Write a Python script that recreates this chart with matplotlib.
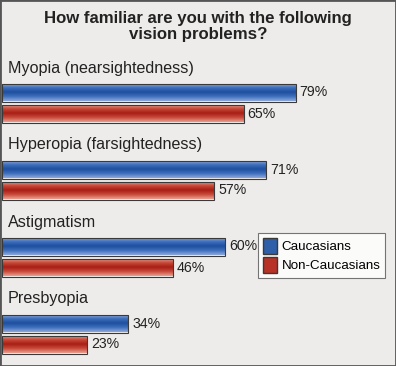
import numpy as np
import matplotlib
matplotlib.use("Agg")
import matplotlib.pyplot as plt
from matplotlib.patches import Patch
from matplotlib.colors import LinearSegmentedColormap

categories = ["Myopia (nearsightedness)", "Hyperopia (farsightedness)", "Astigmatism", "Presbyopia"]
caucasians = [79, 71, 60, 34]
non_caucasians = [65, 57, 46, 23]
series_names = ["Caucasians", "Non-Caucasians"]
title = "How familiar are you with the following\nvision problems?"

W, H, DPI = 396, 366, 100
fig = plt.figure(figsize=(W / DPI, H / DPI), dpi=DPI)
bg = "#eeecea"
fig.patch.set_facecolor(bg)

ax = fig.add_axes([2 / W, 0, 394 / W, 1])
ax.set_facecolor(bg)
px_per_unit = 3.717
ax.set_xlim(0, 394 / px_per_unit)
gs = 77.0
ax.set_ylim((H - 92.5) / gs, -92.5 / gs)
ax.axis("off")

bar_h = 18 / gs
off = 21 / gs
y = np.arange(len(categories))

blue_cmap = LinearSegmentedColormap.from_list("b", ["#9db3df", "#3e6fbd", "#1d4f9e", "#3e6fbd", "#8ea8da"])
red_cmap = LinearSegmentedColormap.from_list("r", ["#eaa898", "#c84a3a", "#a81e14", "#c84a3a", "#e9a090"])

def grad_bars(bars, cmap):
    grad = np.linspace(0, 1, 64).reshape(-1, 1)
    for b in bars:
        x0, y0 = b.get_x(), b.get_y()
        w, h = b.get_width(), b.get_height()
        im = ax.imshow(grad, cmap=cmap, aspect="auto", extent=(x0, x0 + w, y0 + h, y0),
                       interpolation="bicubic", zorder=2)
        im.set_clip_path(b)

b1 = ax.barh(y, caucasians, height=bar_h, color="#2f5fa8", edgecolor="#3a3a3a", linewidth=0.8, zorder=1)
b2 = ax.barh(y + off, non_caucasians, height=bar_h, color="#b83226", edgecolor="#3a3a3a", linewidth=0.8, zorder=1)
grad_bars(b1, blue_cmap)
grad_bars(b2, red_cmap)
for b in list(b1) + list(b2):
    b.set_zorder(3)
    b.set_facecolor("none")

font = "Liberation Sans"
for i, v in enumerate(caucasians):
    ax.text(v + 1.1, i, f"{v}%", va="center", ha="left", fontsize=10.2, family=font, color="#222222")
for i, v in enumerate(non_caucasians):
    ax.text(v + 1.1, i + off, f"{v}%", va="center", ha="left", fontsize=10.2, family=font, color="#222222")
for i, c in enumerate(categories):
    ax.text(6 / px_per_unit, i - 24.5 / gs, c, va="center", ha="left", fontsize=11.6, family=font, color="#222222")

fig.text(0.5, 1 - 26.5 / H, title, ha="center", va="center", fontsize=12.1, fontweight="bold",
         family=font, color="#222222", linespacing=1.08)

handles = [Patch(facecolor="#2f5fa8", edgecolor="#3a3a3a"), Patch(facecolor="#b83226", edgecolor="#3a3a3a")]
leg = fig.legend(handles, series_names, loc="upper right", bbox_to_anchor=(385 / W, 1 - 233 / H),
                 frameon=True, fancybox=False, prop={"family": font, "size": 9.6},
                 handlelength=1.1, handleheight=1.5, handletextpad=0.3, labelspacing=0.2,
                 borderpad=0.35, borderaxespad=0)
leg.get_frame().set_edgecolor("#555555")
leg.get_frame().set_facecolor("white")
leg.get_frame().set_linewidth(0.8)

fig.add_artist(plt.Rectangle((0, 0), 1, 1, transform=fig.transFigure, fill=False,
                             edgecolor="#555555", linewidth=2))

fig.savefig("out.png", dpi=DPI, facecolor=bg)
